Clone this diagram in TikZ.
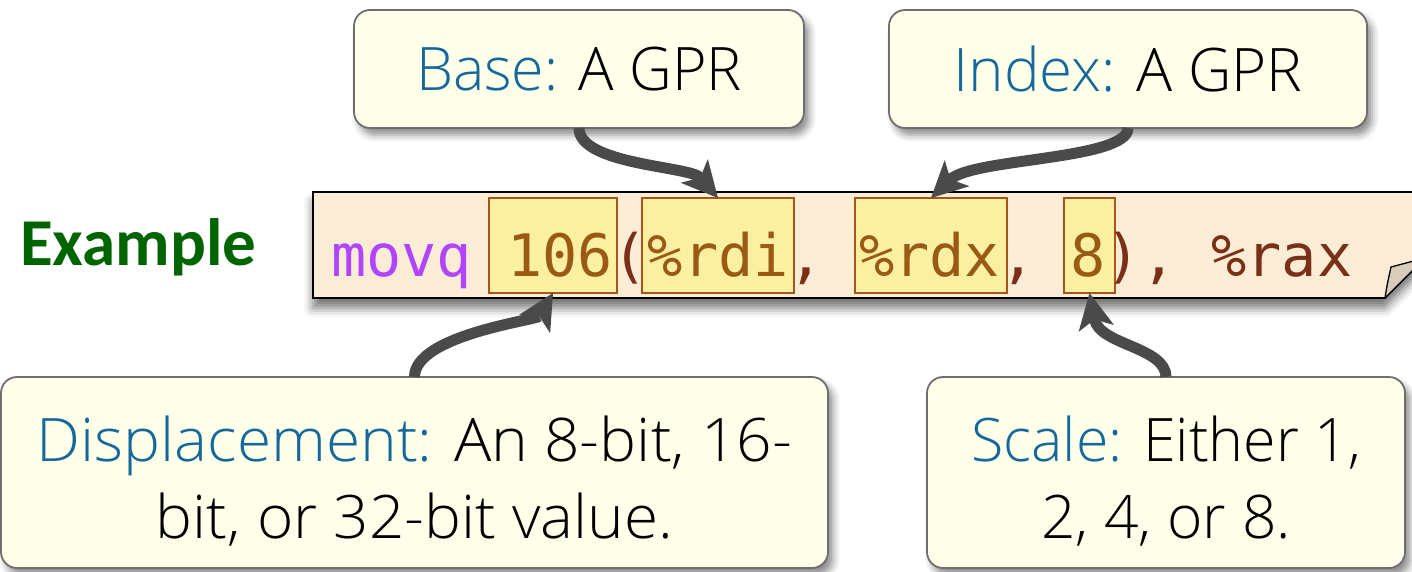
\documentclass[tikz,border=0pt]{standalone}
\usepackage{fontspec}
\usepackage{graphicx}
\usetikzlibrary{shadows.blur,arrows.meta,calc}
\setmainfont{Noto Sans}
\newfontfamily\labelfont{Open Sans Light}
\newfontfamily\headfont{Carlito}
\newfontfamily\codefont{DejaVu Sans Mono}

\definecolor{notefill}{HTML}{FFFFEA}
\definecolor{noteedge}{HTML}{6E6E6E}
\definecolor{termblue}{HTML}{14689B}
\definecolor{paper}{HTML}{FBECD5}
\definecolor{hlfill}{HTML}{FBEFA2}
\definecolor{hledge}{HTML}{A8551C}
\definecolor{opcode}{HTML}{B044FF}
\definecolor{operand}{HTML}{9A5A16}
\definecolor{punct}{HTML}{7A3018}
\definecolor{arrowgray}{HTML}{4A4A4A}
\definecolor{foldfill}{HTML}{D8CDBB}
\definecolor{exgreen}{HTML}{006400}

% horizontal fit of one text line to a given width
\newcommand{\fitline}[2]{\resizebox{#1}{\height}{#2}}

\tikzset{
  note/.style={draw=noteedge, line width=1.8pt, fill=notefill,
    rounded corners=16pt, inner sep=0pt, outer sep=0pt, align=center,
    font=\labelfont\fontsize{60}{77}\selectfont,
    blur shadow={shadow xshift=5pt, shadow yshift=-7pt,
      shadow blur radius=7pt, shadow opacity=45}},
  hl/.style={draw=hledge, line width=1.5pt, fill=hlfill,
    inner sep=0pt, outer sep=0pt},
  arr/.style={draw=arrowgray, line width=11pt,
    -{Stealth[length=36pt, width=36pt, inset=9pt, line width=0pt]}},
}

\begin{document}
\begin{tikzpicture}[x=1pt, y=-1pt]
\useasboundingbox (0,0) rectangle (1412,571);
\clip (0,0) rectangle (1412,571);

% code strip with folded corner
\path[fill=paper, draw=black, line width=1.6pt,
  blur shadow={shadow xshift=0pt, shadow yshift=-10pt,
    shadow blur radius=9pt, shadow opacity=55}]
  (313,192) -- (1440,192) -- (1440,243) -- (1385,298) -- (313,298) -- cycle;
\filldraw[fill=foldfill, draw=black, line width=1.3pt, line join=round]
  (1385,298) .. controls (1387,285) .. (1391,267) -- (1440,254) -- (1440,243) -- cycle;

% highlighted operands
\node[hl, minimum width=128pt, minimum height=95pt] (d106) at (553,245.5) {};
\node[hl, minimum width=152pt, minimum height=95pt] (rdi)  at (718,245.5) {};
\node[hl, minimum width=152pt, minimum height=95pt] (rdx)  at (931,245.5) {};
\node[hl, minimum width=51pt,  minimum height=95pt] (s8)   at (1089.5,245.5) {};

% instruction text
\node[anchor=base west, inner sep=0pt, outer sep=0pt,
  font=\codefont\fontsize{58.5}{60}\selectfont] (code) at (331,276)
  {\textcolor{opcode}{movq} \textcolor{operand}{106}\textcolor{punct}{(}\textcolor{operand}{\%rdi}\textcolor{punct}{,} \textcolor{operand}{\%rdx}\textcolor{punct}{,} \textcolor{operand}{8}\textcolor{punct}{), \%rax}};

\node[anchor=base west, inner sep=0pt, text=exgreen,
  font=\headfont\bfseries\fontsize{67}{70}\selectfont] (ex) at (20,265) {Example};

% callout boxes
\node[note, minimum width=450pt, minimum height=118pt] (base) at (579,69)
  {\fitline{326pt}{\textcolor{termblue}{Base:} A GPR}};
\node[note, minimum width=478pt, minimum height=118pt] (idx) at (1128,69)
  {\fitline{349pt}{\textcolor{termblue}{Index:} A GPR}};
\node[note, minimum width=827pt, minimum height=191pt] (disp) at (414.5,472.5)
  {\rule{0pt}{62pt}\fitline{756pt}{\textcolor{termblue}{Displacement:} An 8-bit, 16-}\\
   \fitline{517pt}{bit, or 32-bit value.}};
\node[note, minimum width=478pt, minimum height=191pt] (scl) at (1166,472.5)
  {\rule{0pt}{62pt}\fitline{390pt}{\textcolor{termblue}{Scale:} Either 1,}\\
   \fitline{250pt}{2, 4, or 8.}};

% connectors
\draw[arr] (base.south) .. controls +(0,37) and +(-28,-32) .. (rdi.north);
\draw[arr] (idx.south)  .. controls +(0,32) and +(42,-40)  .. (rdx.north);
\draw[arr] (disp.north) .. controls +(0,-42) and +(-16,27) .. (d106.south);
\draw[arr] (scl.north)  .. controls +(0,-30) and +(10,52)  .. (s8.south);
\end{tikzpicture}
\end{document}
